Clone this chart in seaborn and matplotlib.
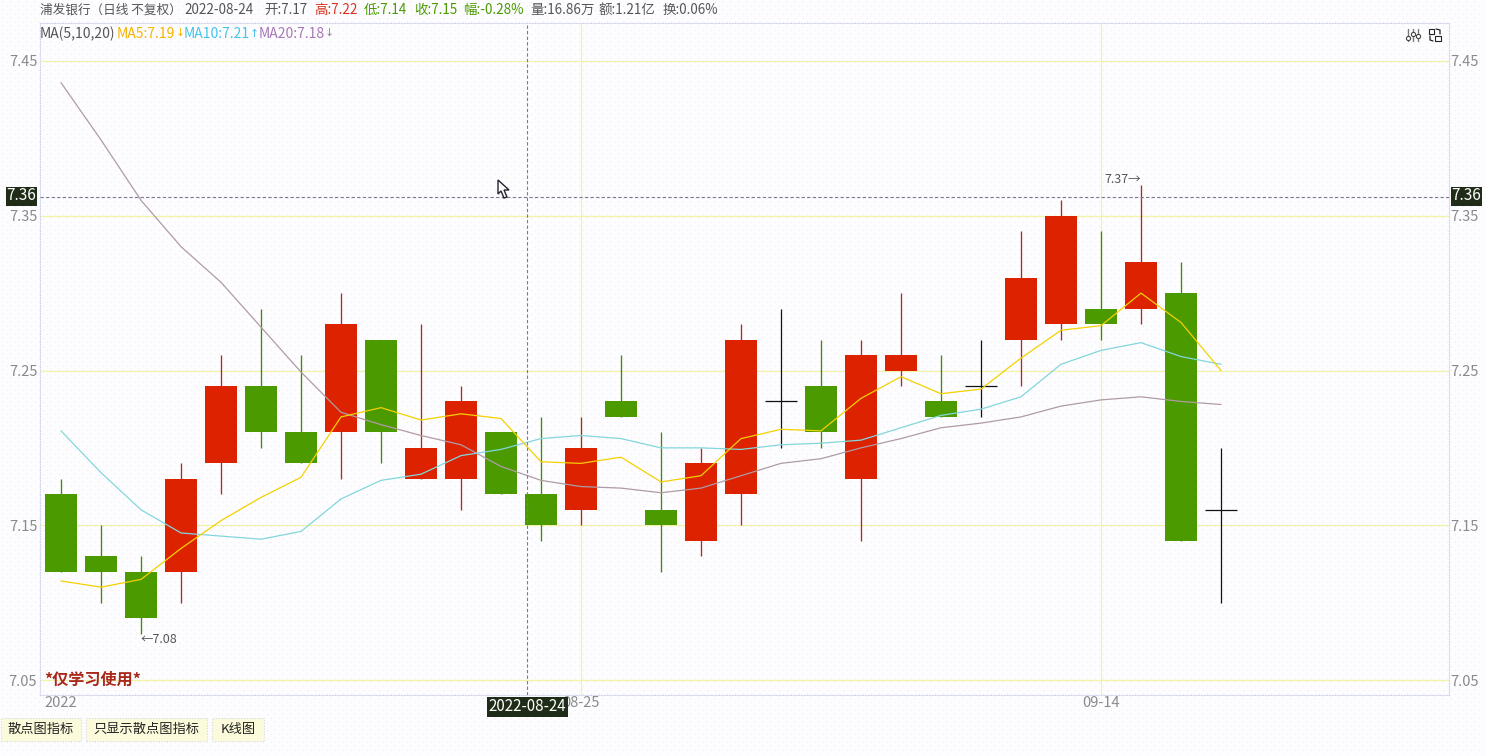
import numpy as np
import pandas as pd
import matplotlib
matplotlib.use("Agg")
import matplotlib.pyplot as plt
from matplotlib.patches import Polygon, Rectangle
import seaborn as sns

opens  = [7.17,7.13,7.12,7.12,7.19,7.24,7.21,7.21,7.27,7.18,7.18,7.21,7.17,7.16,7.23,7.16,7.14,7.17,7.23,7.24,7.18,7.25,7.23,7.24,7.27,7.28,7.29,7.29,7.30,7.16]
closes = [7.12,7.12,7.09,7.18,7.24,7.21,7.19,7.28,7.21,7.20,7.23,7.17,7.15,7.20,7.22,7.15,7.19,7.27,7.23,7.21,7.26,7.26,7.22,7.24,7.31,7.35,7.28,7.32,7.14,7.16]
highs  = [7.18,7.15,7.13,7.19,7.26,7.29,7.26,7.30,7.27,7.28,7.24,7.21,7.22,7.22,7.26,7.21,7.20,7.28,7.29,7.27,7.27,7.30,7.26,7.27,7.34,7.36,7.34,7.37,7.32,7.20]
lows   = [7.12,7.10,7.08,7.10,7.17,7.20,7.19,7.18,7.19,7.18,7.16,7.17,7.14,7.15,7.22,7.12,7.13,7.15,7.20,7.20,7.14,7.24,7.22,7.22,7.24,7.27,7.27,7.28,7.14,7.10]
ma5  = [7.114,7.110,7.115,7.135,7.153,7.168,7.181,7.220,7.226,7.218,7.222,7.219,7.191,7.190,7.194,7.178,7.182,7.206,7.212,7.211,7.232,7.246,7.235,7.238,7.258,7.276,7.279,7.300,7.281,7.250]
ma10 = [7.211,7.184,7.160,7.145,7.143,7.141,7.146,7.167,7.179,7.183,7.195,7.199,7.206,7.208,7.206,7.200,7.200,7.199,7.202,7.203,7.205,7.213,7.221,7.225,7.233,7.254,7.263,7.268,7.259,7.254]
ma20 = [7.436,7.399,7.360,7.330,7.307,7.278,7.249,7.223,7.215,7.208,7.202,7.188,7.179,7.175,7.174,7.171,7.174,7.182,7.190,7.193,7.200,7.206,7.213,7.216,7.220,7.227,7.231,7.233,7.230,7.228]
y_ticks = [7.05,7.15,7.25,7.35,7.45]
x_ticks = [0,13,26]
x_labels = ["2022","08-25","09-14"]
cross_x, cross_y = 11.65, 7.362

W, H = 1486, 756
RED, GREEN, RWICK, GWICK = "#dd2200", "#4a9a00", "#b02a1a", "#3f8a00"
GRID = "#f2f2a8"; AXC = "#d2d5ee"; TXT = "#555555"; TICK = "#8a8a8a"; DARK = "#1f2d18"
sns.set_theme(style="white")
plt.rcParams['font.family'] = ['Noto Sans CJK SC', 'DejaVu Sans']

fig = plt.figure(figsize=(W/100, H/100), dpi=100, facecolor="#fdfdff")
bg = np.ones((H, W, 3)) * np.array([0.995, 0.995, 1.0])
dot = np.array([1.0, 0.96, 0.5])
bg[2::8, 3::8] = dot
bg[6::8, 7::8] = dot
fig.figimage(bg, 0, 0, origin="upper", zorder=-10)

def P(x, y):
    return x/W, 1-y/H

L, R, T, B = 40, 1449, 23, 695
ax = fig.add_axes([L/W, 1-B/H, (R-L)/W, (B-T)/H])
ax.patch.set_alpha(0)
ax.set_xlim((L-61)/40, (R-61)/40)
ax.set_ylim(7.05-(B-680)/1547.5, 7.05+(680-T)/1547.5)
for s in ax.spines.values():
    s.set_color(AXC); s.set_linestyle((0, (1, 1.5))); s.set_linewidth(0.8)

ax.hlines(y_ticks, *ax.get_xlim(), color=GRID, lw=0.9, zorder=1)
ax.vlines(x_ticks[1:], *ax.get_ylim(), color=GRID, lw=0.9, zorder=1)

idx = np.arange(len(opens))
for i, o, c, h, l in zip(idx, opens, closes, highs, lows):
    if o == c:
        ax.vlines(i, l, h, color="#111111", lw=0.9, zorder=3)
        ax.hlines(o, i-0.4, i+0.4, color="#111111", lw=0.9, zorder=3)
        continue
    up = c > o
    ax.vlines(i, l, h, color=RWICK if up else GWICK, lw=0.95, zorder=3)
    ax.bar(i, abs(c-o), bottom=min(o, c), width=0.8, color=RED if up else GREEN, lw=0, zorder=4)

df = pd.DataFrame({"i": idx, "MA5": ma5, "MA10": ma10, "MA20": ma20})
for col, colr in [("MA20", "#b09aa6"), ("MA10", "#82d6dc"), ("MA5", "#f5d000")]:
    sns.lineplot(data=df, x="i", y=col, ax=ax, color=colr, lw=0.9, zorder=5, legend=False)

ax.axvline(cross_x, color="#7a7a92", lw=0.8, ls=(0, (3, 2)), zorder=6)
ax.axhline(cross_y, color="#7a7a92", lw=0.8, ls=(0, (3, 2)), zorder=6)

ax.set_xlabel(""); ax.set_ylabel("")
ax.set_yticks(y_ticks); ax.set_yticklabels([f"{v:.2f}" for v in y_ticks])
ax.set_xticks(x_ticks); ax.set_xticklabels(x_labels)
ax.tick_params(axis="y", length=0, pad=2, labelsize=10.5, labelcolor=TICK)
ax.tick_params(axis="x", length=0, pad=1, labelsize=10.5, labelcolor=TICK)
ax2 = ax.twinx()
ax2.set_ylim(ax.get_ylim()); ax2.patch.set_alpha(0)
ax2.set_yticks(y_ticks); ax2.set_yticklabels([f"{v:.2f}" for v in y_ticks])
ax2.tick_params(axis="y", length=0, pad=1, labelsize=10.5, labelcolor=TICK)
ax2.grid(False)
for s in ax2.spines.values():
    s.set_visible(False)

ax.annotate("←7.08", (2, 7.08), xytext=(0, 1), textcoords="offset pixels", ha="left", va="top", fontsize=9, color=TXT, zorder=7)
ax.annotate("7.37→", (27, 7.37), xytext=(0, -1), textcoords="offset pixels", ha="right", va="bottom", fontsize=9, color=TXT, zorder=7)

header = [(40, "浦发银行（日线 不复权）", TXT, 9.1), (184, "2022-08-24", TXT, 9.7), (264, "开:7.17", TXT, 9.7),
          (314, "高:7.22", "#d8331f", 9.7), (364, "低:7.14", "#4a9a00", 9.7), (414, "收:7.15", "#4a9a00", 9.7),
          (463, "幅:-0.28%", "#4a9a00", 9.7), (530, "量:16.86万", TXT, 9.7), (598, "额:1.21亿", TXT, 9.7), (663, "换:0.06%", TXT, 9.7)]
for x, s, c, fs in header:
    fig.text(*P(x, 10), s, color=c, fontsize=fs, va="center", ha="left")
row2 = [(40, "MA(5,10,20)", TXT, None), (117, "MA5:7.19", "#f5b400", ("↓", 180)),
        (184, "MA10:7.21", "#45c4e8", ("↑", 254)), (259, "MA20:7.18", "#a878b4", ("↓", 329))]
for x, s, c, arrow in row2:
    fig.text(*P(x, 33.5), s, color=c, fontsize=10, va="center", ha="left")
    if arrow:
        fig.text(*P(arrow[1], 33.5), arrow[0], color=c, fontsize=6.5, va="center", ha="center", fontweight="bold")

fig.text(*P(44, 680), "*仅学习使用*", color="#a8281a", fontsize=11.6, fontweight="bold", va="center", ha="left", zorder=8)

def box(x0, y0, x1, y1, fc, ec="none", **kw):
    fig.add_artist(Rectangle(P(x0, y1), (x1-x0)/W, (y1-y0)/H, transform=fig.transFigure, fc=fc, ec=ec, lw=0.8, zorder=9, **kw))

box(6, 187, 37, 206, DARK)
box(1451, 187, 1482, 206, DARK)
fig.text(*P(21.5, 196), "7.36", color="white", fontsize=11, va="center", ha="center", zorder=10)
fig.text(*P(1466.5, 196), "7.36", color="white", fontsize=11, va="center", ha="center", zorder=10)
box(487, 697, 568, 717, DARK)
fig.text(*P(527.5, 706.5), "2022-08-24", color="white", fontsize=10.9, va="center", ha="center", zorder=10)

for x0, x1, s in [(1, 81, "散点图指标"), (86, 207, "只显示散点图指标"), (212, 264, "K线图")]:
    box(x0, 718, x1, 741, "#fbfbdc", ec="#d8d8e0", ls=(0, (1, 1.5)))
    fig.text(*P((x0+x1)/2, 729), s, color="#222222", fontsize=9.5, va="center", ha="center", zorder=10)

cursor = [(498, 180), (498, 194), (501, 191), (504, 198), (507, 197), (504, 190), (509, 190)]
fig.add_artist(Polygon([P(*p) for p in cursor], closed=True, transform=fig.transFigure, fc="white", ec="#222233", lw=1, zorder=11))

for x, yd in [(1408, 38), (1413, 34), (1418, 36)]:
    fig.add_artist(plt.Line2D([P(x, 0)[0]]*2, [P(0, 29)[1], P(0, 41)[1]], transform=fig.transFigure, color="#777777", lw=1, zorder=11))
    fig.add_artist(plt.Line2D([P(x, 0)[0]], [P(0, yd)[1]], transform=fig.transFigure, marker="o", ms=3, mfc="white", mec="#444444", mew=0.8, zorder=12))
box(1429, 29, 1434, 34, "white", ec="#222222")
box(1435, 36, 1441, 41, "white", ec="#222222")
fig.add_artist(plt.Line2D([P(1436,0)[0], P(1440,0)[0], P(1440,0)[0]], [P(0,29)[1], P(0,30)[1], P(0,34)[1]], transform=fig.transFigure, color="#222222", lw=0.9, zorder=11))
fig.add_artist(plt.Line2D([P(1430,0)[0], P(1430,0)[0], P(1433,0)[0]], [P(0,36)[1], P(0,40)[1], P(0,41)[1]], transform=fig.transFigure, color="#222222", lw=0.9, zorder=11))

fig.savefig("out.png", dpi=100)
